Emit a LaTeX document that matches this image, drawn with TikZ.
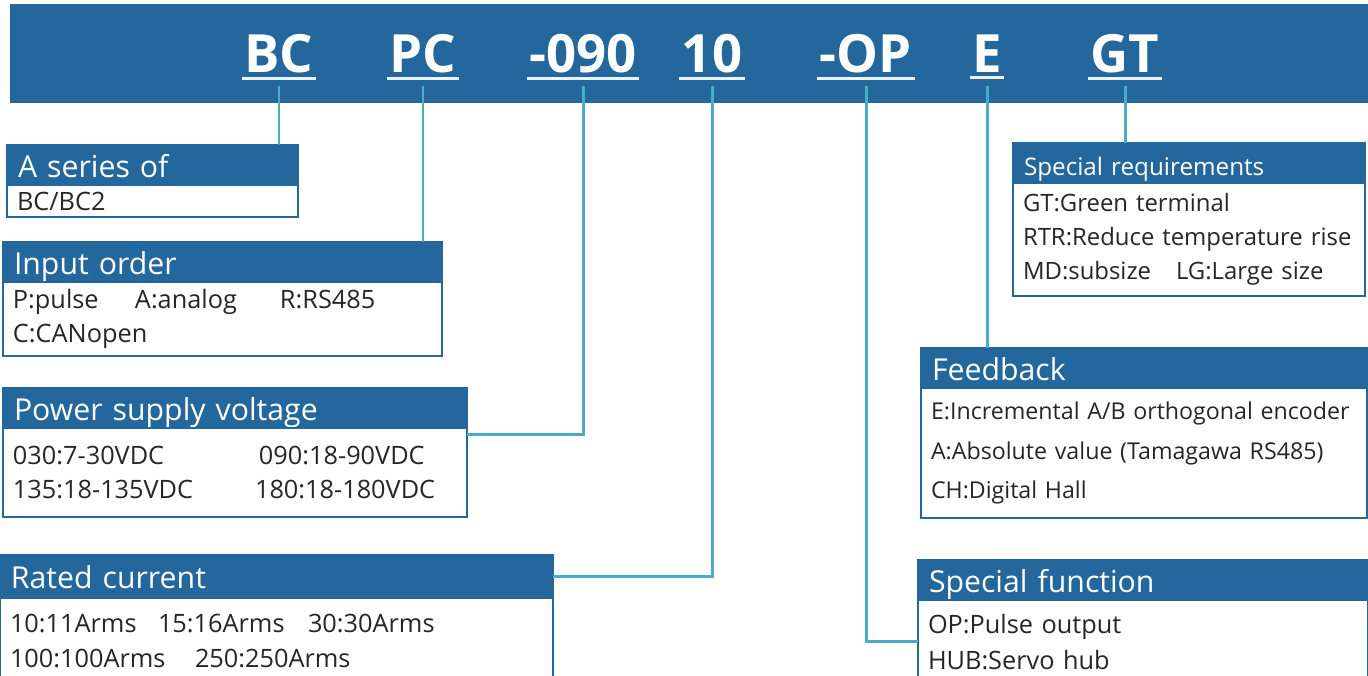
\documentclass[tikz,border=0pt]{standalone}
\usepackage{fontspec}
\setmainfont{Open Sans}
\usetikzlibrary{positioning}
\definecolor{bcblue}{HTML}{24679C}
\definecolor{bclink}{HTML}{4BACC6}
\definecolor{bctext}{HTML}{262626}

\begin{document}
\begin{tikzpicture}[
    code/.style={text=white,font=\fontsize{15}{15}\selectfont\bfseries,inner xsep=0.02cm,inner ysep=0.05cm,anchor=base},
    uline/.style={white!92!bcblue,line width=0.85pt},
    link/.style={bclink,line width=0.85pt},
    hdr/.style={draw=bcblue,fill=bcblue,line width=0.7pt,text=white,anchor=north west,outer sep=0pt,
      inner xsep=0.11cm,inner ysep=0pt,text width=#1,align=left,minimum height=0.4cm,
      text height=0.27cm,text depth=0.03cm,font=\fontsize{8.6}{10}\selectfont},
    bodybox/.style={draw=bcblue,fill=white,line width=0.7pt,text=bctext,outer sep=0pt,
      inner xsep=0.1cm,inner ysep=0.02cm,text width=#1,align=left,
      font=\fontsize{7.2}{9.7}\selectfont}]
  \useasboundingbox (0,0) rectangle (13.68,-6.75);
  % code bar
  \fill[bcblue] (0.10,-0.04) rectangle (13.68,-1.03);
  \node[code] (cseries) at (2.79,-0.72) {BC};
  \node[code] (cinput) at (4.23,-0.72) {PC};
  \node[code] (cvolt) at (5.83,-0.72) {-090};
  \node[code] (ccur) at (7.12,-0.72) {10};
  \node[code] (cfunc) at (8.66,-0.72) {-OP};
  \node[code] (cfb) at (9.87,-0.72) {E};
  \node[code] (creq) at (11.25,-0.72) {GT};
  \foreach \c in {cseries,cinput,cvolt,ccur,cfunc,cfb,creq}
    \draw[uline] (\c.south west) -- (\c.south east);
  % left column
  \node[hdr=2.69cm] (serh) at (0.07,-1.45) {A series of};
  \node[bodybox=2.71cm,minimum height=0.32cm,below=0pt of serh] (serb) {BC/BC2};
  \node[hdr=4.17cm] (inph) at (0.03,-2.42) {Input order};
  \node[bodybox=4.19cm,minimum height=0.74cm,below=0pt of inph,font=\fontsize{7.2}{9.6}\selectfont] (inpb)
    {\makebox[1.22cm][l]{P:pulse}\makebox[1.45cm][l]{A:analog}R:RS485\\C:CANopen};
  \node[hdr=4.42cm] (volth) at (0.03,-3.88) {Power supply voltage};
  \node[bodybox=4.44cm,minimum height=0.89cm,below=0pt of volth,font=\fontsize{7.2}{9.9}\selectfont] (voltb)
    {\makebox[2.46cm][l]{030:7-30VDC}090:18-90VDC\\\makebox[2.42cm][l]{135:18-135VDC}180:18-180VDC};
  \node[hdr=5.31cm,minimum height=0.43cm] (curh) at (0.00,-5.55) {Rated current};
  \node[bodybox=5.33cm,minimum height=0.86cm,below=0pt of curh,font=\fontsize{7.2}{9.9}\selectfont] (curb)
    {\makebox[1.48cm][l]{10:11Arms}\makebox[1.50cm][l]{15:16Arms}30:30Arms\\\makebox[1.85cm][l]{100:100Arms}250:250Arms};
  % right column
  \node[hdr=3.30cm,font=\fontsize{6.9}{8}\selectfont] (reqh) at (10.13,-1.43) {Special requirements};
  \node[bodybox=3.32cm,minimum height=1.13cm,below=0pt of reqh,font=\fontsize{6.8}{9.6}\selectfont] (reqb)
    {GT:Green terminal\\RTR:Reduce temperature rise\\\makebox[1.53cm][l]{MD:subsize}LG:Large size};
  \node[hdr=4.24cm] (fbh) at (9.21,-3.48) {Feedback};
  \node[bodybox=4.26cm,minimum height=1.30cm,below=0pt of fbh,font=\fontsize{6.6}{11.3}\selectfont] (fbb)
    {E:Incremental A/B orthogonal encoder\\A:Absolute value (Tamagawa RS485)\\CH:Digital Hall};
  \node[hdr=4.28cm] (funch) at (9.18,-5.60) {Special function};
  \node[bodybox=4.30cm,minimum height=0.84cm,below=0pt of funch,font=\fontsize{7.2}{10.4}\selectfont] (funcb)
    {OP:Pulse output\\HUB:Servo hub};
  % connectors
  \draw[link] ([yshift=-0.08cm]cseries.south) -- (cseries.south |- serh.north);
  \draw[link] ([yshift=-0.08cm]cinput.south) -- (cinput.south |- inph.north);
  \draw[link] ([yshift=-0.08cm]cvolt.south) |- ([yshift=-0.06cm]voltb.north east);
  \draw[link] ([yshift=-0.08cm]ccur.south) |- (curh.east);
  \draw[link] ([yshift=-0.08cm]cfunc.south) |- ([yshift=-0.41cm]funcb.north west);
  \draw[link] ([yshift=-0.08cm]cfb.south) -- (cfb.south |- fbh.north);
  \draw[link] ([yshift=-0.08cm]creq.south) -- (creq.south |- reqh.north);
\end{tikzpicture}
\end{document}
